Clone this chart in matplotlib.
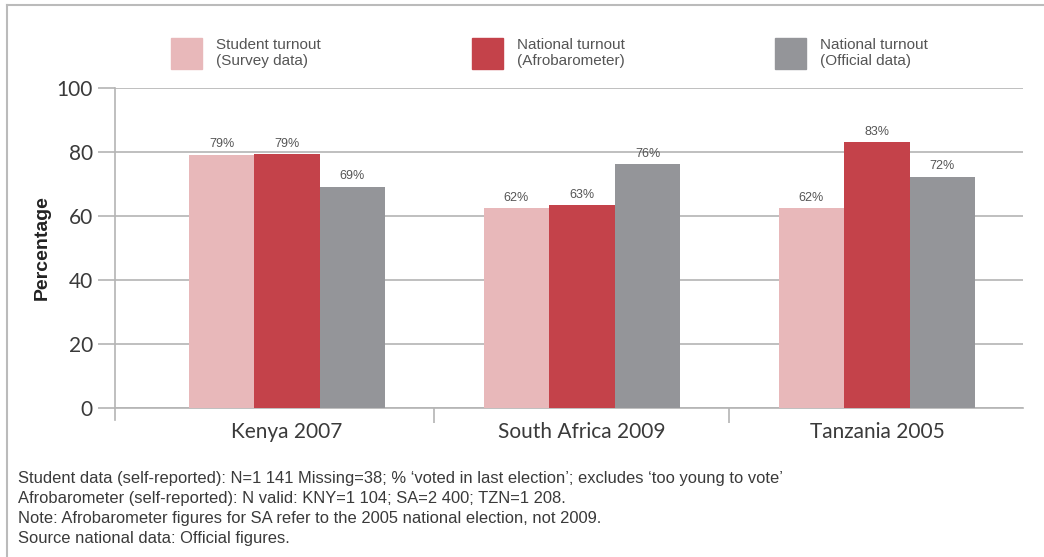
import numpy as np
import matplotlib as mpl
mpl.use('Agg')
import matplotlib.pyplot as plt
from matplotlib.patches import Rectangle
from matplotlib.lines import Line2D

# data
countries = ['Kenya 2007', 'South Africa 2009', 'Tanzania 2005']
series_names = ['Student turnout\n(Survey data)',
                'National turnout\n(Afrobarometer)',
                'National turnout\n(Official data)']
student = [79.2, 62.4, 62.4]
afro = [79.3, 63.3, 83.2]
official = [69.2, 76.3, 72.3]
labels_student = ['79%', '62%', '62%']
labels_afro = ['79%', '63%', '83%']
labels_official = ['69%', '76%', '72%']
yticks = [0, 20, 40, 60, 80, 100]
notes = ["Student data (self-reported): N=1 141 Missing=38; % \u2018voted in last election\u2019; excludes \u2018too young to vote\u2019",
         "Afrobarometer (self-reported): N valid: KNY=1 104; SA=2 400; TZN=1 208.",
         "Note: Afrobarometer figures for SA refer to the 2005 national election, not 2009.",
         "Source national data: Official figures."]

colors = ['#E8B8BA', '#C4424A', '#949599']
grid_c = '#B4B4B4'
text_c = '#3A3A3A'
sans = ['Liberation Sans', 'DejaVu Sans']
light = ['Lato', 'DejaVu Sans']

fig = plt.figure(figsize=(10.44, 5.57), dpi=100)
ax = fig.add_axes([115/1044, 1 - 408/557, 908/1044, 320/557])

x = np.arange(len(countries))
w = 0.222
all_vals = [student, afro, official]
all_labs = [labels_student, labels_afro, labels_official]
for i, (vals, labs) in enumerate(zip(all_vals, all_labs)):
    pos = x + (i - 1) * w
    bars = ax.bar(pos, vals, width=w, color=colors[i], zorder=3)
    for b, lab in zip(bars, labs):
        ax.annotate(lab, (b.get_x() + b.get_width()/2, b.get_height()),
                    xytext=(0, 3), textcoords='offset points',
                    ha='center', va='bottom', fontsize=9,
                    color='#555555', family=sans)

ax.set_ylim(0, 100)
ax.set_xlim(-0.583, 2.495)
ax.set_yticks(yticks)
ax.set_yticklabels([str(v) for v in yticks], family=light, fontsize=15,
                   color='#3A3A3A')
ax.yaxis.grid(True, color=grid_c, lw=1.2, zorder=0)
ax.set_axisbelow(True)
ax.tick_params(axis='y', length=12, width=1.2, color=grid_c, pad=4)

# category separators on the x axis
ax.set_xticks(np.arange(len(countries) - 1) + 0.5)
ax.set_xticklabels([])
ax.tick_params(axis='x', length=11, width=1.2, color=grid_c)
for xi, c in zip(x, countries):
    ax.text(xi, -4.5, c, ha='center', va='top', fontsize=15,
            family=light, color='#3A3A3A')

for s in ['top', 'right']:
    ax.spines[s].set_visible(False)
for s in ['left', 'bottom']:
    ax.spines[s].set_color(grid_c)
    ax.spines[s].set_linewidth(1.2)
ax.spines['left'].set_bounds(-3.6, 100)

ax.set_ylabel('Percentage', fontsize=14, fontweight='bold', color='#222222',
              family=sans, labelpad=4)

# legend
leg_x = [171, 472, 775]
for lx, c, name in zip(leg_x, colors, series_names):
    fig.patches.append(Rectangle((lx/1044, 1 - 69/557), 31/1044, 31/557,
                                 transform=fig.transFigure, color=c))
    fig.text((lx + 45)/1044, 1 - 53/557, name, ha='left', va='center',
             fontsize=11, color='#555555', family=sans, linespacing=1.25)

# footnotes
for k, line in enumerate(notes):
    fig.text(18/1044, 1 - (478 + 20*k)/557, line, ha='left', va='center',
             fontsize=11.9, color=text_c, family=sans)

# outer frame (left and top only)
fig.add_artist(Line2D([7/1044, 7/1044], [0, 1 - 5/557], color='#BBBBBB',
                      lw=1.5, transform=fig.transFigure))
fig.add_artist(Line2D([7/1044, 1], [1 - 5/557, 1 - 5/557], color='#BBBBBB',
                      lw=1.5, transform=fig.transFigure))

fig.savefig('out.png', dpi=100)
